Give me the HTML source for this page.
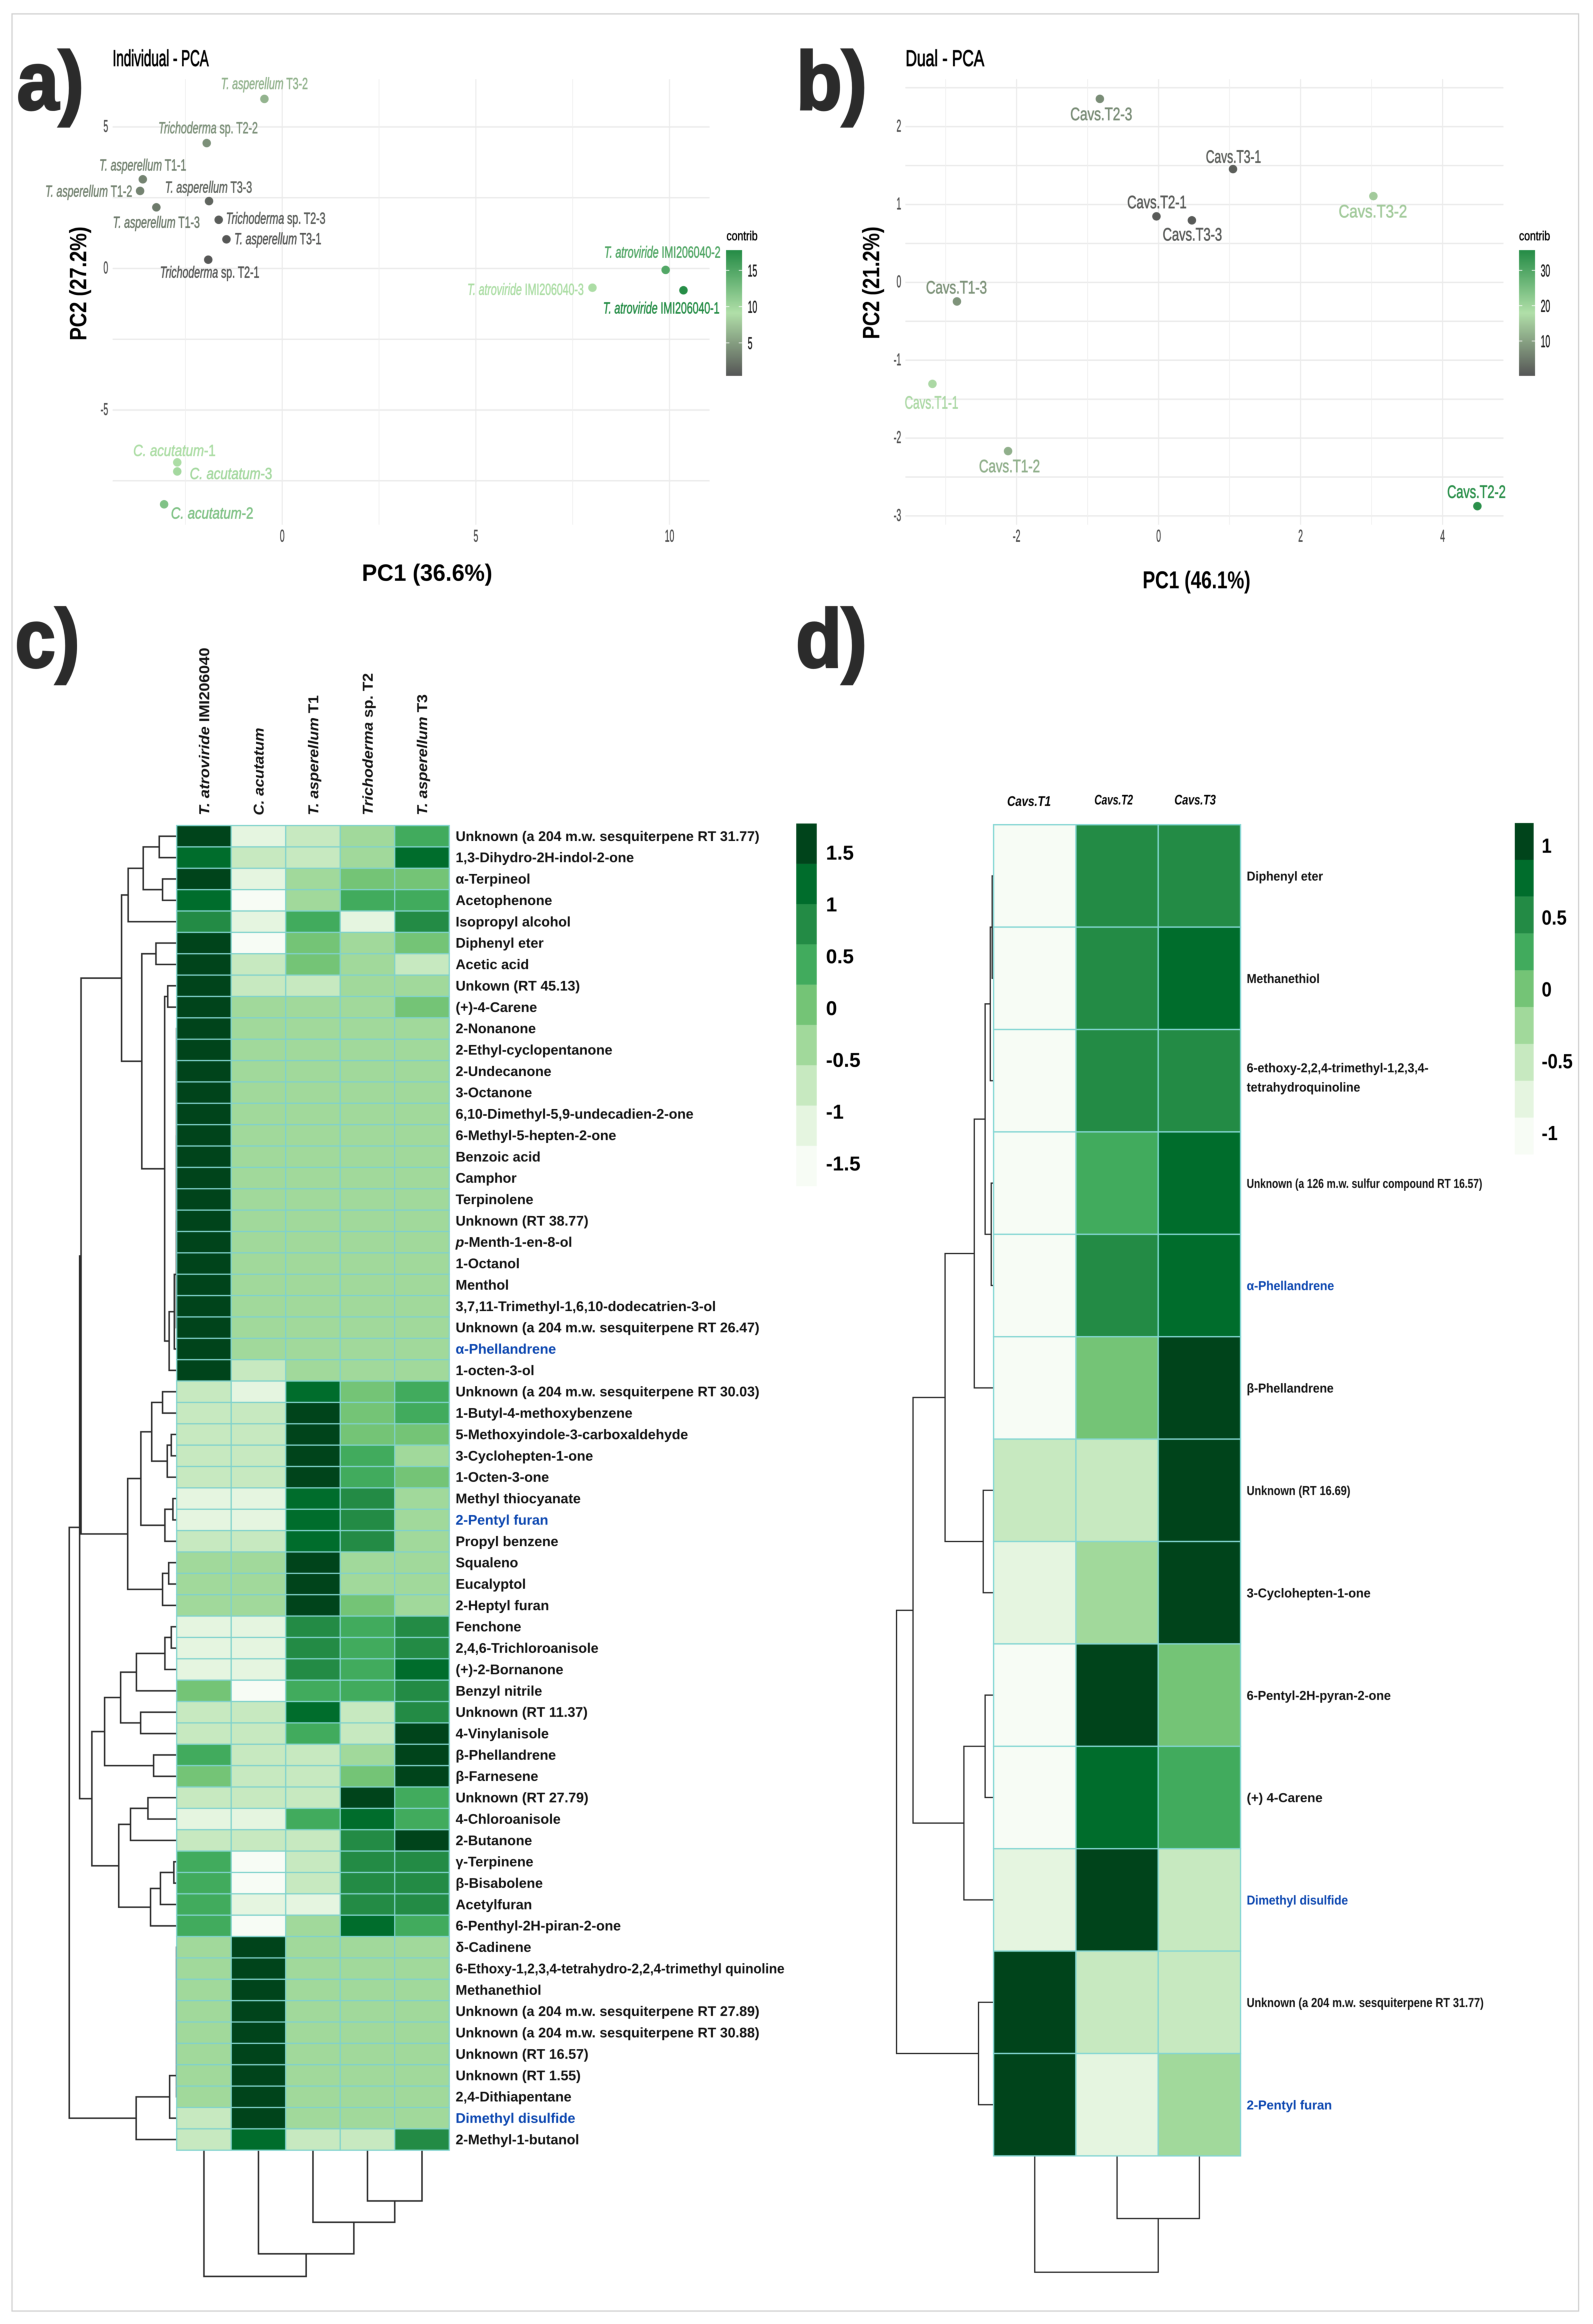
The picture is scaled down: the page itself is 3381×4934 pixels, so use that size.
<!DOCTYPE html>
<html lang="en">
<head>
<meta charset="utf-8">
<title>PCA and heatmap figure</title>
<style>
html,body{margin:0;padding:0;background:#fff}
svg{display:block}
#figure{filter:blur(0.9px)}
text{font-family:"Liberation Sans",sans-serif}
.heavy{stroke-width:1;stroke-linejoin:round}
</style>
</head>
<body>
<svg id="figure" xmlns="http://www.w3.org/2000/svg" width="3381" height="4934" viewBox="0 0 3381 4934">
  <defs>
    <linearGradient id="contribGradient" x1="0" y1="1" x2="0" y2="0">
      <stop offset="0" stop-color="#555555"/>
      <stop offset="0.5" stop-color="#b0dfa8"/>
      <stop offset="1" stop-color="#238b45"/>
    </linearGradient>
  </defs>
  <rect x="0" y="0" width="3381" height="4934" fill="#ffffff"/>
  <rect x="25.5" y="29.5" width="3325" height="4877" fill="none" stroke="#cfcfcf" stroke-width="2.5"/>

  <text x="36" y="232" font-size="175" font-weight="700" fill="#2b2b2b" stroke="#2b2b2b" stroke-width="5" textLength="142" lengthAdjust="spacingAndGlyphs">a)</text>
  <text x="1690" y="232" font-size="175" font-weight="700" fill="#2b2b2b" stroke="#2b2b2b" stroke-width="5" textLength="150" lengthAdjust="spacingAndGlyphs">b)</text>
  <text x="32" y="1416" font-size="175" font-weight="700" fill="#2b2b2b" stroke="#2b2b2b" stroke-width="5" textLength="137" lengthAdjust="spacingAndGlyphs">c)</text>
  <text x="1689" y="1416" font-size="175" font-weight="700" fill="#2b2b2b" stroke="#2b2b2b" stroke-width="5" textLength="151" lengthAdjust="spacingAndGlyphs">d)</text>

  <g id="panelA">
    <text x="239" y="140" font-size="48" fill="#000" stroke="#000" stroke-width="1.4" textLength="204" lengthAdjust="spacingAndGlyphs">Individual - PCA</text>
    <text x="768" y="1233" font-size="50" font-weight="700" fill="#000" textLength="277" lengthAdjust="spacingAndGlyphs">PC1 (36.6%)</text>
    <text transform="translate(183,723) rotate(-90)" font-size="50" font-weight="700" fill="#000" textLength="242" lengthAdjust="spacingAndGlyphs">PC2 (27.2%)</text>
    <text x="1542" y="510" font-size="28" fill="#000" stroke="#000" stroke-width="0.7" textLength="66" lengthAdjust="spacingAndGlyphs">contrib</text>
    <rect x="1541" y="531" width="34" height="267" fill="url(#contribGradient)"/>
  </g>

  <g id="panelB">
    <text x="1922" y="140" font-size="48" fill="#000" stroke="#000" stroke-width="1.4" textLength="167" lengthAdjust="spacingAndGlyphs">Dual - PCA</text>
    <text x="2425" y="1249" font-size="52" font-weight="700" fill="#000" textLength="229" lengthAdjust="spacingAndGlyphs">PC1 (46.1%)</text>
    <text transform="translate(1866,720) rotate(-90)" font-size="50" font-weight="700" fill="#000" textLength="239" lengthAdjust="spacingAndGlyphs">PC2 (21.2%)</text>
    <text x="3224" y="510" font-size="28" fill="#000" stroke="#000" stroke-width="0.7" textLength="66" lengthAdjust="spacingAndGlyphs">contrib</text>
    <rect x="3224" y="531" width="34" height="267" fill="url(#contribGradient)"/>
  </g>

  <g id="panelC"></g>
  <g id="panelD"></g>
</svg>

<script>
/* ---------- Panel A data ---------- */
const pc1A = [-0.46,-1.95,-3.60,-3.67,-1.89,-3.25,-1.64,-1.44,-1.91,9.90,10.36,8.01,-2.71,-2.71,-3.05];
const pc2A = [5.99,4.43,3.15,2.74,2.38,2.16,1.72,1.03,0.31,-0.05,-0.77,-0.68,-6.85,-7.17,-8.33];
const contribA = [6.3,4.1,3.3,3.3,1.4,2.7,0.9,0.5,0.5,14.8,17.5,9.3,9.3,9.8,12];
const speciesA = ['T. asperellum','Trichoderma','T. asperellum','T. asperellum','T. asperellum','T. asperellum','Trichoderma','T. asperellum','Trichoderma','T. atroviride','T. atroviride','T. atroviride','C. acutatum','C. acutatum','C. acutatum'];
const sampleA = [' T3-2',' sp. T2-2',' T1-1',' T1-2',' T3-3',' T1-3',' sp. T2-3',' T3-1',' sp. T2-1',' IMI206040-2',' IMI206040-1',' IMI206040-3','-1','-3','-2'];
const xTicksA = [0,5,10];
const xMinorA = [-2.5,2.5,7.5];
const yTicksA = [5,0,-5];
const yMinorA = [2.5,-2.5,-7.5];
const legendTicksA = [15,10,5];

/* ---------- Panel B data ---------- */
const pc1B = [-0.827,1.048,-0.03,0.469,3.025,-2.84,-3.185,-2.12,4.49];
const pc2B = [2.357,1.455,0.848,0.797,1.108,-0.245,-1.304,-2.167,-2.874];
const contribB = [7.5,1.5,1,1,15.5,8.4,17.3,12,35];
const sampleB = ['Cavs.T2-3','Cavs.T3-1','Cavs.T2-1','Cavs.T3-3','Cavs.T3-2','Cavs.T1-3','Cavs.T1-1','Cavs.T1-2','Cavs.T2-2'];
const xTicksB = [-2,0,2,4];
const xMinorB = [-3,-1,1,3];
const yTicksB = [2,1,0,-1,-2,-3];
const yMinorB = [2.5,1.5,0.5,-0.5,-1.5,-2.5];
const legendTicksB = [30,20,10];

/* ---------- Panel C data (z-scores by column) ---------- */
const columnGroupsC = [['T. atroviride',' IMI206040'],['C. acutatum',''],['T. asperellum',' T1'],['Trichoderma',' sp. T2'],['T. asperellum',' T3']];
const zAtroviride = [1.6,1.2,1.6,1.2,0.8,1.6,1.6,1.6,1.6,1.6,1.6,1.6,1.6,1.6,1.6,1.6,1.6,1.6,1.6,1.6,1.6,1.6,1.6,1.6,1.6,1.6,-0.75,-0.75,-0.75,-0.75,-0.75,-1.1,-1.1,-0.75,-0.35,-0.35,-0.35,-1.1,-1.1,-1.1,0.05,-0.75,-0.75,0.4,0.05,-0.75,-1.1,-0.75,0.4,0.4,0.4,0.4,-0.35,-0.35,-0.35,-0.35,-0.35,-0.35,-0.35,-0.35,-0.75,-0.75];
const zAcutatum = [-1.1,-0.75,-1.1,-1.5,-1.1,-1.5,-0.75,-0.75,-0.35,-0.35,-0.35,-0.35,-0.35,-0.35,-0.35,-0.35,-0.35,-0.35,-0.35,-0.35,-0.35,-0.35,-0.35,-0.35,-0.35,-0.75,-1.1,-0.75,-0.75,-0.75,-0.75,-1.1,-1.1,-0.75,-0.35,-0.35,-0.35,-1.1,-1.1,-1.1,-1.5,-0.75,-0.75,-0.75,-0.75,-0.75,-1.1,-0.75,-1.5,-1.5,-1.1,-1.5,1.6,1.6,1.6,1.6,1.6,1.6,1.6,1.6,1.6,1.2];
const zAsperellumT1 = [-0.75,-0.75,-0.35,-0.35,0.4,0.05,0.05,-0.75,-0.35,-0.35,-0.35,-0.35,-0.35,-0.35,-0.35,-0.35,-0.35,-0.35,-0.35,-0.35,-0.35,-0.35,-0.35,-0.35,-0.35,-0.35,1.2,1.6,1.6,1.6,1.6,1.2,1.2,1.2,1.6,1.6,1.6,0.8,0.8,0.8,0.4,1.2,0.4,-0.75,-0.75,-0.75,0.4,-0.75,-0.75,-0.75,-1.1,-0.35,-0.35,-0.35,-0.35,-0.35,-0.35,-0.35,-0.35,-0.35,-0.35,-0.75];
const zTrichodermaT2 = [-0.35,-0.35,0.05,0.4,-1.1,-0.35,-0.35,-0.35,-0.35,-0.35,-0.35,-0.35,-0.35,-0.35,-0.35,-0.35,-0.35,-0.35,-0.35,-0.35,-0.35,-0.35,-0.35,-0.35,-0.35,-0.35,0.05,0.05,0.05,0.4,0.4,0.8,0.8,0.8,-0.35,-0.35,0.05,0.4,0.4,0.4,0.4,-0.75,-0.75,-0.35,0.05,1.6,1.2,0.8,0.8,0.8,0.8,1.2,-0.35,-0.35,-0.35,-0.35,-0.35,-0.35,-0.35,-0.35,-0.35,-0.75];
const zAsperellumT3 = [0.4,1.2,0.05,0.4,0.8,0.05,-0.75,-0.35,0.05,-0.35,-0.35,-0.35,-0.35,-0.35,-0.35,-0.35,-0.35,-0.35,-0.35,-0.35,-0.35,-0.35,-0.35,-0.35,-0.35,-0.35,0.4,0.4,0.05,-0.35,0.05,-0.35,-0.35,-0.35,-0.35,-0.35,-0.35,0.8,0.8,1.2,0.8,0.8,1.6,1.6,1.6,0.4,0.4,1.6,0.8,0.8,0.8,0.4,-0.35,-0.35,-0.35,-0.35,-0.35,-0.35,-0.35,-0.35,-0.35,0.8];
const compoundsC = ['Unknown (a 204 m.w. sesquiterpene RT 31.77)','1,3-Dihydro-2H-indol-2-one','α-Terpineol','Acetophenone','Isopropyl alcohol','Diphenyl eter','Acetic acid','Unkown (RT 45.13)','(+)-4-Carene','2-Nonanone','2-Ethyl-cyclopentanone','2-Undecanone','3-Octanone','6,10-Dimethyl-5,9-undecadien-2-one','6-Methyl-5-hepten-2-one','Benzoic acid','Camphor','Terpinolene','Unknown (RT 38.77)','p-Menth-1-en-8-ol','1-Octanol','Menthol','3,7,11-Trimethyl-1,6,10-dodecatrien-3-ol','Unknown (a 204 m.w. sesquiterpene RT 26.47)','α-Phellandrene','1-octen-3-ol','Unknown (a 204 m.w. sesquiterpene RT 30.03)','1-Butyl-4-methoxybenzene','5-Methoxyindole-3-carboxaldehyde','3-Cyclohepten-1-one','1-Octen-3-one','Methyl thiocyanate','2-Pentyl furan','Propyl benzene','Squaleno','Eucalyptol','2-Heptyl furan','Fenchone','2,4,6-Trichloroanisole','(+)-2-Bornanone','Benzyl nitrile','Unknown (RT 11.37)','4-Vinylanisole','β-Phellandrene','β-Farnesene','Unknown (RT 27.79)','4-Chloroanisole','2-Butanone','γ-Terpinene','β-Bisabolene','Acetylfuran','6-Penthyl-2H-piran-2-one','δ-Cadinene','6-Ethoxy-1,2,3,4-tetrahydro-2,2,4-trimethyl quinoline','Methanethiol','Unknown (a 204 m.w. sesquiterpene RT 27.89)','Unknown (a 204 m.w. sesquiterpene RT 30.88)','Unknown (RT 16.57)','Unknown (RT 1.55)','2,4-Dithiapentane','Dimethyl disulfide','2-Methyl-1-butanol'];
const highlightedCompounds = ['α-Phellandrene','2-Pentyl furan','Dimethyl disulfide'];
const legendTicksC = [1.5,1,0.5,0,-0.5,-1,-1.5];
const legendLabelsC = ['1.5','1','0.5','0','-0.5','-1','-1.5'];

/* Dendrograms: [merge height, left child, right child]; numbers are leaf indices */
const rowTreeTop = [117,
  [103,[71,[37,0,1],[30,2,3]],4],
  [74,[44,5,6],[25.5,[19,7,8],[16,[5,[0.6,[0.5,[0.4,
    [0.3,[0.3,9,10],[0.3,[0.3,11,12],[0.3,13,14]]],
    [0.3,[0.3,15,16],[0.3,[0.3,17,18],[0.3,19,[0.3,20,21]]]]],22],23],24],25]]]];
const rowTreeMid = [104,
  [76,[53,[30,26,27],[20,[11.5,28,29],30]],[25,[8,31,32],33]],
  [30,[17,34,35],36]];
const rowTreeLow = [180,
  [153,[119,[85.5,[25,[11.5,37,38],39],40],[76.5,41,42]],[49,43,44]],
  [123,[98,[61,45,46],47],[55.5,[34.5,[6,48,49],50],51]]];
const rowTreeEnd = [86,[15,[0.4,[0.4,[0.4,[0.4,[0.4,[0.4,[0.4,52,53],54],55],56],57],58],59],60],61];
const rowTreeC = [228,[206,[203,rowTreeTop,rowTreeMid],rowTreeLow],rowTreeEnd];
const colTreeC = [268,0,[220,1,[153,2,[107.7,3,4]]]];

/* ---------- Panel D data (z-scores by column) ---------- */
const columnsD = ['Cavs.T1','Cavs.T2','Cavs.T3'];
const zCavsT1 = [-1.02,-1.02,-1.02,-1.02,-1.02,-1.02,-0.51,-0.77,-1.02,-1.02,-0.77,1.02,1.02];
const zCavsT2 = [0.51,0.51,0.51,0.26,0.51,0,-0.51,-0.26,1.02,0.77,1.02,-0.51,-0.77];
const zCavsT3 = [0.51,0.77,0.51,0.77,0.77,1.02,1.02,1.02,0,0.26,-0.51,-0.51,-0.26];
const compoundsD = ['Diphenyl eter','Methanethiol','6-ethoxy-2,2,4-trimethyl-1,2,3,4-\ntetrahydroquinoline','Unknown (a 126 m.w. sulfur compound RT 16.57)','α-Phellandrene','β-Phellandrene','Unknown (RT 16.69)','3-Cyclohepten-1-one','6-Pentyl-2H-pyran-2-one','(+) 4-Carene','Dimethyl disulfide','Unknown (a 204 m.w. sesquiterpene RT 31.77)','2-Pentyl furan'];
const legendTicksD = [1,0.5,0,-0.5,-1];
const legendLabelsD = ['1','0.5','0','-0.5','-1'];
const rowTreeD = [206,
  [171,[103,[41,[18,[7,[3,0,1],2],[5,3,4]],5],[22,6,7]],[63,[18,8,9],10]],
  [32,11,12]];
const colTreeD = [247,0,[133,1,2]];

/* ---------- Shared palette ---------- */
const greens = ['#f7fcf5','#e5f5e0','#c7e9c0','#a1d99b','#74c476','#41ab5d','#238b45','#006d2c','#00441b'];

/* ---------- Helpers ---------- */
const SVG_NS = 'http://www.w3.org/2000/svg';
function shape(parent, tag, attrs, name) {
  const el = document.createElementNS(SVG_NS, tag);
  for (const k in attrs) el.setAttribute(k, attrs[k]);
  
  
  parent.appendChild(el);
  return el;
}
function label(parent, segments, x, y, o, name) {
  const el = document.createElementNS(SVG_NS, 'text');
  el.setAttribute('font-size', o.size);
  el.setAttribute('fill', o.fill || '#000');
  if (o.weight) el.setAttribute('font-weight', o.weight);
  if (o.anchor) el.setAttribute('text-anchor', o.anchor);
  if (o.heavy) { el.setAttribute('stroke', o.fill || '#000'); el.setAttribute('stroke-width', o.heavy); }
  if (o.len) { el.setAttribute('textLength', o.len); el.setAttribute('lengthAdjust', 'spacingAndGlyphs'); }
  el.setAttribute('transform', 'translate(' + x + ',' + y + ')' + (o.rot ? ' rotate(' + o.rot + ')' : '') + (o.sx ? ' scale(' + o.sx + ',1)' : ''));
  const parts = Array.isArray(segments) ? segments : [[segments, false]];
  parts.forEach(function (p) {
    if (!p[0]) return;
    const t = document.createElementNS(SVG_NS, 'tspan');
    t.textContent = p[0];
    if (p[1]) t.setAttribute('font-style', 'italic');
    el.appendChild(t);
  });
  
  
  parent.appendChild(el);
  return el;
}
function lerp(a, b, t) { return a + (b - a) * t; }
function mixColor(c1, c2, t) {
  return 'rgb(' + Math.round(lerp(c1[0], c2[0], t)) + ',' + Math.round(lerp(c1[1], c2[1], t)) + ',' + Math.round(lerp(c1[2], c2[2], t)) + ')';
}
function contribColor(v, lo, hi) {
  const t = Math.max(0, Math.min(1, (v - lo) / (hi - lo)));
  return t < 0.5 ? mixColor([85,85,85],[176,223,168],t * 2) : mixColor([176,223,168],[35,139,69],(t - 0.5) * 2);
}

/* ---------- PCA scatter ---------- */
function drawPca(cfg) {
  const g = cfg.group;
  const grid = shape(g, 'g', {}, 'gridlines-' + cfg.id);
  cfg.yMinor.concat(cfg.yTicks).forEach(function (v) {
    shape(grid, 'line', {x1: cfg.left, x2: cfg.right, y1: cfg.y(v), y2: cfg.y(v), stroke: '#ebebeb', 'stroke-width': 3}, 'horizontal-gridline');
  });
  cfg.xMinor.forEach(function (v) {
    shape(grid, 'line', {x1: cfg.x(v), x2: cfg.x(v), y1: cfg.top, y2: cfg.bottom, stroke: '#efefef', 'stroke-width': 1.6}, 'vertical-minor-gridline');
  });
  cfg.xTicks.forEach(function (v) {
    shape(grid, 'line', {x1: cfg.x(v), x2: cfg.x(v), y1: cfg.top, y2: cfg.bottom, stroke: '#ebebeb', 'stroke-width': 2.4}, 'vertical-major-gridline');
  });
  cfg.xTicks.forEach(function (v) {
    label(g, String(v), cfg.x(v), 1150, {size: 36, sx: 0.5, anchor: 'middle', fill: '#4d4d4d', heavy: 0.8}, 'x-tick-label-' + cfg.id);
  });
  cfg.yTicks.forEach(function (v) {
    label(g, String(v), cfg.tickRight, cfg.y(v) + 10.5, {size: 36, sx: 0.5, anchor: 'end', fill: '#4d4d4d', heavy: 0.8}, 'y-tick-label-' + cfg.id);
  });
  cfg.pc1.forEach(function (v, i) {
    const col = contribColor(cfg.contrib[i], cfg.legendMin, cfg.legendMax);
    shape(g, 'circle', {cx: cfg.x(v), cy: cfg.y(cfg.pc2[i]), r: 9, fill: col}, 'sample-point-' + cfg.id);
    label(g, cfg.text(i), cfg.x(v) + cfg.dx[i], cfg.y(cfg.pc2[i]) + cfg.dy[i] + cfg.fs * 0.36,
      {size: cfg.fs, sx: cfg.sx[i], anchor: 'middle', fill: col, heavy: 0.9}, 'sample-label-' + cfg.id);
  });
  cfg.legendTicks.forEach(function (v) {
    const y = cfg.legendY(v);
    shape(g, 'line', {x1: cfg.barX, x2: cfg.barX + 7, y1: y, y2: y, stroke: '#fff', 'stroke-width': 1.5}, 'colorbar-tick');
    shape(g, 'line', {x1: cfg.barX + 27, x2: cfg.barX + 34, y1: y, y2: y, stroke: '#fff', 'stroke-width': 1.5}, 'colorbar-tick');
    label(g, String(v), cfg.barX + 46, y + 13, {size: 36, sx: 0.5, fill: '#1a1a1a', heavy: 0.8}, 'colorbar-tick-label-' + cfg.id);
  });
}
const xA = function (v) { return 599 + 82.2 * v; };
const yA = function (v) { return 570 - 60.1 * v; };
const labelDxA = [0,3,0,-109,-1,0,121,109,3,-7,-47,-142,-6,114,102];
const labelDyA = [-33,-33,-31,0,-30,31,-4,-2,26,-38,37,3,-26,4,18];
const labelSxA = [0.656,0.656,0.656,0.656,0.656,0.656,0.656,0.656,0.656,0.656,0.656,0.656,0.82,0.82,0.82];
drawPca({id:'a', group:document.getElementById('panelA'), x:xA, y:yA, pc1:pc1A, pc2:pc2A, contrib:contribA,
  text:function(i){return [[speciesA[i],true],[sampleA[i],false]];},
  dx:labelDxA, dy:labelDyA, fs:34, sx:labelSxA, left:239, right:1506, top:168, bottom:1114, tickRight:229.5,
  xTicks:xTicksA, xMinor:xMinorA, yTicks:yTicksA, yMinor:yMinorA, legendTicks:legendTicksA,
  legendMin:0.4, legendMax:17.7, barX:1541, legendY:function(v){return 651 - (v - 10) * 15.4;}});

const xB = function (v) { return 2459 + 150.7 * v; };
const yB = function (v) { return 599.5 - 165.3 * v; };
const labelDxB = [3,1,1,1,-1,-1,-2,3,-2];
const labelDyB = [31.5,-27,-31,29,31.5,-30.5,39,31,-31.5];
const labelSxB = [0.75,0.67,0.72,0.72,0.83,0.74,0.65,0.74,0.71];
drawPca({id:'b', group:document.getElementById('panelB'), x:xB, y:yB, pc1:pc1B, pc2:pc2B, contrib:contribB,
  text:function(i){return sampleB[i];},
  dx:labelDxB, dy:labelDyB, fs:38, sx:labelSxB, left:1921.5, right:3191, top:168, bottom:1114, tickRight:1912.7,
  xTicks:xTicksB, xMinor:xMinorB, yTicks:yTicksB, yMinor:yMinorB, legendTicks:legendTicksB,
  legendMin:0.4, legendMax:36, barX:3224, legendY:function(v){return 649 - (v - 20) * 7.5;}});

/* ---------- Heatmaps ---------- */
function walkTree(node, leafAt, heightAt, emit) {
  if (typeof node === 'number') return {p: leafAt(node), q: heightAt(0)};
  const a = walkTree(node[1], leafAt, heightAt, emit);
  const b = walkTree(node[2], leafAt, heightAt, emit);
  const q = heightAt(node[0]);
  emit(a, b, q);
  return {p: (a.p + b.p) / 2, q: q};
}
function drawRowTree(g, tree, leafY, heightX, width, color, name) {
  let d = '';
  walkTree(tree, leafY, heightX, function (a, b, q) {
    d += 'M' + a.q + ' ' + a.p + 'H' + q + 'V' + b.p + 'H' + b.q;
  });
  shape(g, 'path', {d: d, fill: 'none', stroke: color, 'stroke-width': width}, name);
}
function drawColTree(g, tree, leafX, heightY, width, color, name) {
  let d = '';
  walkTree(tree, leafX, heightY, function (a, b, q) {
    d += 'M' + a.p + ' ' + a.q + 'V' + q + 'H' + b.p + 'V' + b.q;
  });
  shape(g, 'path', {d: d, fill: 'none', stroke: color, 'stroke-width': width}, name);
}
function binColor(z, lo, hi) {
  const i = Math.floor((z - lo) / (hi - lo) * greens.length);
  return greens[Math.max(0, Math.min(greens.length - 1, i))];
}

/* Panel C */
(function () {
  const g = document.getElementById('panelC');
  const columns = [zAtroviride, zAcutatum, zAsperellumT1, zTrichodermaT2, zAsperellumT3];
  const left = 375, top = 1752.7, cw = 115.7, rh = 45.36;
  const colX = function (i) { return left + cw * (i + 0.5); };
  const rowY = function (i) { return top + rh * (i + 0.5); };
  const zMin = -1.72, zMax = 1.78;
  drawRowTree(g, rowTreeC, rowY, function (h) { return left - h; }, 3.2, '#2a2a2a', 'row-dendrogram-c');
  const bottom = top + rh * compoundsC.length;
  drawColTree(g, colTreeC, colX, function (h) { return bottom + h; }, 3.2, '#2a2a2a', 'column-dendrogram-c');
  columns.forEach(function (col, c) {
    col.forEach(function (z, r) {
      shape(g, 'rect', {x: left + cw * c, y: top + rh * r, width: cw, height: rh, fill: binColor(z, zMin, zMax), stroke: '#80d2cc', 'stroke-width': 2.6}, 'heat-cell-c');
    });
  });
  columnGroupsC.forEach(function (parts, c) {
    const lens = [356, 186, 255, 302, 257];
    label(g, [[parts[0], true], [parts[1], false]], colX(c) + 11, 1731, {size: 31, weight: 700, rot: -90, len: lens[c], fill: '#111'}, 'column-label-c');
  });
  compoundsC.forEach(function (nm, r) {
    const blue = highlightedCompounds.indexOf(nm) >= 0;
    const parts = nm.indexOf('p-') === 0 ? [['p', true], [nm.slice(1), false]] : nm;
    const opts = {size: 29.5, weight: 700, fill: blue ? '#0b46b0' : '#111'};
    if (nm.indexOf('6-Ethoxy') === 0) opts.len = 698;
    label(g, parts, 967, rowY(r) + 10, opts, 'compound-label-c');
  });
  const legY = function (z) { return 2140 - 220 * z; };
  greens.forEach(function (col, i) {
    const zLo = zMin + (zMax - zMin) * i / greens.length;
    const zHi = zMin + (zMax - zMin) * (i + 1) / greens.length;
    shape(g, 'rect', {x: 1690, y: legY(zHi), width: 43.5, height: legY(zLo) - legY(zHi), fill: col}, 'color-legend-bin-c');
  });
  legendTicksC.forEach(function (z, i) {
    label(g, legendLabelsC[i], 1753, legY(z) + 15, {size: 42.5, weight: 700, fill: '#000'}, 'color-legend-label-c');
  });
})();

/* Panel D */
(function () {
  const g = document.getElementById('panelD');
  const columns = [zCavsT1, zCavsT2, zCavsT3];
  const left = 2108.8, top = 1750.9, cw = 174.7, rh = 217.4;
  const colX = function (i) { return left + cw * (i + 0.5); };
  const rowY = function (i) { return top + rh * (i + 0.5); };
  const zMin = -1.152, zMax = 1.155;
  drawRowTree(g, rowTreeD, rowY, function (h) { return left - h; }, 2.6, '#222', 'row-dendrogram-d');
  const bottom = top + rh * compoundsD.length;
  drawColTree(g, colTreeD, colX, function (h) { return bottom + h; }, 2.6, '#222', 'column-dendrogram-d');
  columns.forEach(function (col, c) {
    col.forEach(function (z, r) {
      shape(g, 'rect', {x: left + cw * c, y: top + rh * r, width: cw, height: rh, fill: binColor(z, zMin, zMax), stroke: '#84d6d3', 'stroke-width': 2.8}, 'heat-cell-d');
    });
  });
  const colLens = [93, 82, 88];
  const colCenter = [2184, 2363.7, 2536.5];
  const colBase = [1711, 1708, 1708];
  columnsD.forEach(function (nm, c) {
    label(g, [[nm, true]], colCenter[c] - colLens[c] / 2, colBase[c], {size: 30, weight: 700, len: colLens[c], fill: '#000'}, 'column-label-d');
  });
  const labelLens = [[162],[155],[386,241],[500],[185.5],[184.5],[220],[263],[306],[161],[215],[503],[181]];
  compoundsD.forEach(function (nm, r) {
    const blue = highlightedCompounds.indexOf(nm) >= 0;
    const lines = nm.split('\n');
    lines.forEach(function (line, i) {
      const y = lines.length > 1 ? rowY(r) + (i === 0 ? -18 : 23) : rowY(r) + 10;
      label(g, line, 2646, y, {size: 28, weight: 700, len: labelLens[r][i], fill: blue ? '#0b46b0' : '#111'}, 'compound-label-d');
    });
  });
  const legY = function (z) { return 2099.6 - 305 * z; };
  greens.forEach(function (col, i) {
    const zLo = zMin + (zMax - zMin) * i / greens.length;
    const zHi = zMin + (zMax - zMin) * (i + 1) / greens.length;
    shape(g, 'rect', {x: 3215, y: legY(zHi), width: 40, height: legY(zLo) - legY(zHi), fill: col}, 'color-legend-bin-d');
  });
  legendTicksD.forEach(function (z, i) {
    label(g, legendLabelsD[i], 3272, legY(z) + 16, {size: 44, sx: 0.87, weight: 700, fill: '#000'}, 'color-legend-label-d');
  });
})();
</script>
</body>
</html>
